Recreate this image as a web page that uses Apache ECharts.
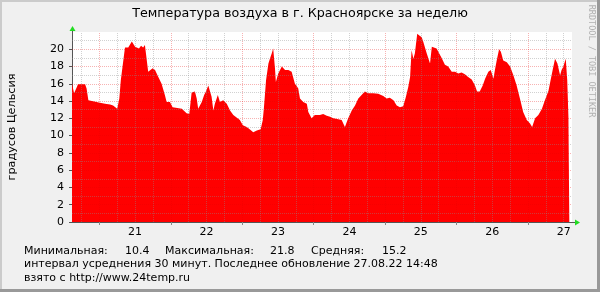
<!DOCTYPE html>
<html><head><meta charset="utf-8">
<script src="https://cdn.jsdelivr.net/npm/echarts@6/dist/echarts.min.js"></script>
<style>html,body{margin:0;padding:0;background:#f0f0f0}#c{width:600px;height:292px}</style>
</head><body><div id="c"></div>
<script>
// time in hours since 20.08.22 00:00
const hours = [14.8,15.5,16.4,16.8,19.2,19.7,20.3,20.8,24.2,25.9,27.6,28.6,29.2,30.0,30.7,31.2,31.8,32.6,33.7,34.9,35.4,36.0,36.6,37.3,38.0,38.7,39.3,39.9,40.4,41.0,41.9,42.7,43.8,44.9,46.0,46.6,47.7,48.6,51.7,53.3,54.2,55.0,56.1,56.7,57.2,57.8,58.4,59.2,59.8,60.6,61.2,61.7,62.3,62.8,63.8,64.5,65.1,65.6,66.8,67.9,69.0,70.1,71.2,72.2,73.5,74.6,75.7,76.9,78.2,78.9,79.3,80.0,80.8,81.3,81.9,82.4,83.0,83.3,84.1,85.3,86.4,87.5,88.6,89.7,90.8,91.4,92.5,93.7,94.2,95.3,96.4,98.1,99.2,100.4,101.5,102.6,104.3,105.4,106.5,107.6,108.8,109.9,111.0,112.1,113.2,114.4,116.0,117.7,119.4,120.5,121.6,122.8,123.9,125.0,126.1,127.0,127.8,128.4,128.9,129.5,130.0,130.8,131.5,132.3,132.8,134.0,135.1,135.7,136.2,137.3,137.9,139.0,140.1,141.2,142.4,143.5,144.6,145.7,146.8,147.9,149.1,150.2,150.9,151.8,152.8,153.6,154.7,155.5,156.4,156.9,157.5,158.3,158.9,159.7,160.9,162.0,163.1,164.2,165.3,166.4,167.6,168.7,169.4,170.4,171.5,172.7,173.7,174.9,175.6,176.3,177.1,177.9,178.8,179.3,179.9,180.7,181.2,181.6,181.9];
const temps = [16.0,14.9,15.6,15.95,15.95,15.45,14.1,14.0,13.8,13.7,13.6,13.5,13.3,13.1,14.3,16.4,16.6,20.2,20.2,20.9,21.05,20.3,20.5,20.1,20.4,20.2,20.5,20.6,17.4,17.2,17.8,17.6,16.8,16.0,14.7,13.9,13.9,13.3,13.1,12.6,12.5,15.0,15.1,14.3,13.1,13.3,13.9,14.7,15.1,15.8,16.0,14.5,12.9,13.7,14.7,13.9,14.1,14.1,13.7,12.9,12.4,12.1,11.8,11.2,11.0,10.7,10.4,10.6,10.75,11.8,13.3,16.4,18.35,18.9,19.5,20.1,17.8,16.2,17.2,18.0,17.6,17.6,17.4,16.0,15.5,14.3,13.9,13.7,12.75,12.0,12.4,12.4,12.5,12.3,12.2,12.0,11.9,11.8,11.0,12.0,12.9,13.5,14.3,14.7,15.1,14.9,14.9,14.85,14.6,14.3,14.4,14.1,13.5,13.3,13.4,14.5,15.65,16.8,19.9,18.9,19.5,21.8,21.6,21.4,20.9,19.5,18.35,20.3,20.4,20.1,19.9,19.0,18.2,18.0,17.4,17.4,17.2,17.3,17.1,16.8,16.5,15.8,15.1,15.1,15.8,16.6,17.4,17.6,16.6,17.6,18.7,20.0,19.7,18.7,18.5,18.0,17.0,15.8,14.3,12.75,11.8,11.4,11.0,12.0,12.4,13.1,14.1,15.2,16.4,17.6,18.9,18.35,17.0,17.6,18.0,18.9,16.4,12.2,12.2];
const dayLabels = ['21','22','23','24','25','26','27'];
const dayLabelHours = [36,60,84,108,132,156,180];
const yTickValues = [0,2,4,6,8,10,12,14,16,18,20];
const titleText = 'Температура воздуха в г. Красноярске за неделю';
const yAxisName = 'градусов Цельсия';
const statNames = ['Минимальная:', 'Максимальная:', 'Средняя:'];
const statValues = ['10.4', '21.8', '15.2'];
const footerLines = ['интервал усреднения 30 минут. Последнее обновление 27.08.22 14:48', 'взято с http://www.24temp.ru'];
const watermark = 'RRDTOOL / TOBI OETIKER';

const X_MIN = 14.8, X_MAX = 182.8, Y_MAX = 22;
const FONT = 'DejaVu Sans';
const minorCol = 'rgba(140,140,140,0.4)';
const majorCol = 'rgba(229,0,0,0.3)';

const gridLines = [];
for (let v = 1; v < Y_MAX; v++) {
  gridLines.push({yAxis: v, lineStyle: {color: v % 2 ? minorCol : majorCol, type: [1, 1], width: 1}});
}
for (let h = 18; h < X_MAX; h += 6) {
  gridLines.push({xAxis: h, lineStyle: {color: h % 24 ? minorCol : majorCol, type: [1, 1], width: 1}});
}
const midnights = [];
for (let h = 24; h < X_MAX; h += 24) midnights.push(h);

const chart = echarts.init(document.getElementById('c'), null, {renderer: 'canvas'});
const gl = 72, gr = 572, gt = 32, gb = 222;
const statX = [24, 125, 165, 270, 311, 382];
chart.setOption({
  animation: false,
  backgroundColor: '#f0f0f0',
  grid: {left: gl, right: 600 - gr, top: gt, bottom: 292 - gb, show: true, backgroundColor: '#ffffff', borderWidth: 0},
  xAxis: {
    type: 'value', min: X_MIN, max: X_MAX,
    axisLine: {show: true, lineStyle: {color: '#555555', width: 1}},
    axisTick: {show: true, customValues: midnights, length: 3, lineStyle: {color: '#888888'}},
    axisLabel: {customValues: dayLabelHours, formatter: v => dayLabels[dayLabelHours.indexOf(v)], color: '#000', fontFamily: FONT, fontSize: 11, margin: 5},
    splitLine: {show: false}
  },
  yAxis: {
    type: 'value', min: 0, max: Y_MAX,
    axisLine: {show: true, lineStyle: {color: '#555555', width: 1}},
    axisTick: {show: true, customValues: yTickValues, length: 3, lineStyle: {color: '#555555'}},
    axisLabel: {customValues: yTickValues, color: '#000', fontFamily: FONT, fontSize: 11, margin: 8},
    splitLine: {show: false}
  },
  series: [{
    type: 'line', data: hours.map((h, i) => [h, temps[i]]),
    symbol: 'none', lineStyle: {width: 0}, areaStyle: {color: '#ff0000', opacity: 1},
    z: 2, silent: true,
    markLine: {silent: true, symbol: ['none', 'none'], label: {show: false}, animation: false, data: gridLines}
  }],
  graphic: [
    {type: 'rect', shape: {x: 0, y: 0, width: 600, height: 2}, style: {fill: '#cbcbcb'}},
    {type: 'rect', shape: {x: 0, y: 0, width: 2, height: 292}, style: {fill: '#cbcbcb'}},
    {type: 'rect', shape: {x: 597, y: 0, width: 3, height: 292}, style: {fill: '#999999'}},
    {type: 'rect', shape: {x: 0, y: 289, width: 600, height: 3}, style: {fill: '#999999'}},
    {type: 'line', shape: {x1: gl + 0.5, y1: gt, x2: gl + 0.5, y2: gt - 3}, style: {stroke: '#555555', lineWidth: 1}},
    {type: 'line', shape: {x1: gr, y1: gb + 0.5, x2: gr + 3, y2: gb + 0.5}, style: {stroke: '#555555', lineWidth: 1}},
    {type: 'polygon', shape: {points: [[gl + 0.5, gt - 6], [gl - 2.5, gt - 1], [gl + 3.5, gt - 1]]}, style: {fill: '#22dd22'}},
    {type: 'polygon', shape: {points: [[gr + 8, gb + 0.5], [gr + 3, gb - 2.5], [gr + 3, gb + 3.5]]}, style: {fill: '#22dd22'}},
    {type: 'text', x: 300, y: 14, style: {text: titleText, font: '12.7px "DejaVu Sans"', fill: '#000', textAlign: 'center', textVerticalAlign: 'middle'}},
    {type: 'text', x: 12, y: 127, rotation: Math.PI / 2, style: {text: yAxisName, font: '11.2px "DejaVu Sans"', fill: '#000', textAlign: 'center', textVerticalAlign: 'middle'}},
    {type: 'text', x: 591, y: 61, rotation: -Math.PI / 2, style: {text: watermark, font: '8.5px "DejaVu Sans Mono"', fill: '#b0b0b0', textAlign: 'center', textVerticalAlign: 'middle'}},
    ...[statNames[0], statValues[0], statNames[1], statValues[1], statNames[2], statValues[2]].map((t, i) => ({
      type: 'text', x: statX[i], y: 251, style: {text: t, font: '11px "DejaVu Sans"', fill: '#000', textVerticalAlign: 'middle'}
    })),
    ...footerLines.map((t, i) => ({
      type: 'text', x: 24, y: 264.5 + i * 13.5, style: {text: t, font: '11px "DejaVu Sans"', fill: '#000', textVerticalAlign: 'middle'}
    }))
  ]
});
</script></body></html>
